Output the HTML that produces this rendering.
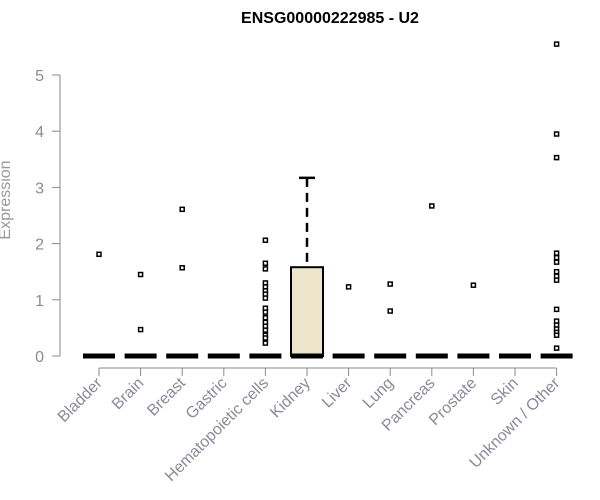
<!DOCTYPE html>
<html><head><meta charset="utf-8"><style>
body{margin:0;background:#fff}
svg{display:block;font-family:"Liberation Sans",Arial,sans-serif}
</style></head><body>
<svg id="chart" width="600" height="500" viewBox="0 0 600 500">
<text x="330" y="23" text-anchor="middle" font-weight="bold" font-size="16">ENSG00000222985 - U2</text>
<text transform="translate(10,200) rotate(-90)" text-anchor="middle" font-size="16" fill="#999">Expression</text>
<g id="yaxis"></g>
<g id="xaxis"></g>
<g id="plot"></g>
</svg>
<script>
const categories=["Bladder","Brain","Breast","Gastric","Hematopoietic cells","Kidney","Liver","Lung","Pancreas","Prostate","Skin","Unknown / Other"];
const q1=[0,0,0,0,0,0,0,0,0,0,0,0];
const medians=[0,0,0,0,0,0,0,0,0,0,0,0];
const q3=[0,0,0,0,0,1.58,0,0,0,0,0,0];
const whiskerHigh=[0,0,0,0,0,3.17,0,0,0,0,0,0];
const outliers=[[1.81],[1.45,0.47],[2.61,1.57],[],[2.06,1.65,1.55,1.30,1.23,1.16,1.10,1.03,0.85,0.78,0.68,0.60,0.53,0.46,0.37,0.32,0.23],[],[1.23],[1.28,0.80],[2.67],[1.26],[],[5.55,3.95,3.53,1.83,1.75,1.67,1.50,1.42,1.35,0.83,0.62,0.55,0.48,0.42,0.37,0.14]];
const yTicks=[0,1,2,3,4,5];
const NS="http://www.w3.org/2000/svg";
const y=v=>356-v*56.2;
const x=i=>99+i*41.6;
function mk(tag,attrs,parent){const e=document.createElementNS(NS,tag);for(const k in attrs)e.setAttribute(k,attrs[k]);parent.appendChild(e);return e;}
const ya=document.getElementById('yaxis'),xa=document.getElementById('xaxis'),pl=document.getElementById('plot');
let l=mk('line',{x1:60,x2:60,y1:y(5),y2:y(0),stroke:'#888'},ya);


yTicks.forEach(t=>{
 const tk=mk('line',{x1:52,x2:60,y1:y(t),y2:y(t),stroke:'#888'},ya);
 
 
 const tx=mk('text',{x:44,y:y(t)+6,'text-anchor':'end','font-size':16,fill:'#8a8a9a'},ya);
 tx.textContent=t;
 
 
});
l=mk('line',{x1:x(0),x2:x(11),y1:368,y2:368,stroke:'#888'},xa);


categories.forEach((c,i)=>{
 const tk=mk('line',{x1:x(i),x2:x(i),y1:368,y2:376,stroke:'#888'},xa);
 
 
 const tx=mk('text',{transform:`translate(${x(i)+4},${384}) rotate(-45)`,'text-anchor':'end','font-size':16,fill:'#8a8a9a'},xa);
 tx.textContent=c;
 
 
 const g=mk('g',{},pl);
 
 
 const cx=x(i);
 if(whiskerHigh[i]>q3[i]){
  mk('line',{x1:cx,x2:cx,y1:y(whiskerHigh[i]),y2:y(q3[i]),stroke:'#000','stroke-width':2.5,'stroke-dasharray':'9,6'},g);
  mk('line',{x1:cx-8,x2:cx+8,y1:y(whiskerHigh[i]),y2:y(whiskerHigh[i]),stroke:'#000','stroke-width':2.5},g);
 }
 if(q3[i]>q1[i]) mk('rect',{x:cx-16,y:y(q3[i]),width:32,height:y(q1[i])-y(q3[i]),fill:'#ede6cc',stroke:'#000','stroke-width':2},g);
 mk('line',{x1:cx-16,x2:cx+16,y1:y(medians[i]),y2:y(medians[i]),stroke:'#000','stroke-width':5},g);
 outliers[i].forEach(v=>{
  const p=mk('rect',{x:cx-2,y:y(v)-2,width:4,height:4,fill:'#fff',stroke:'#000','stroke-width':1.5},g);
  
  
 });
});
</script>
</body></html>
